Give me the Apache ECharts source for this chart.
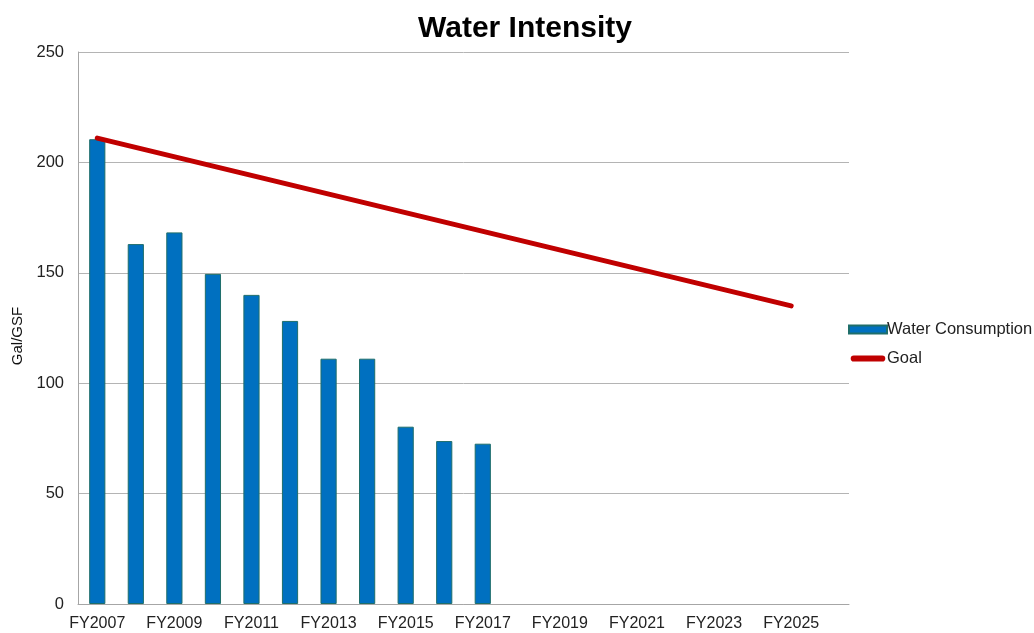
<!DOCTYPE html>
<html>
<head>
<meta charset="utf-8">
<script src="https://cdn.jsdelivr.net/npm/echarts@6/dist/echarts.min.js"></script>
<style>
  html, body { margin: 0; padding: 0; background: #fff; }
  #chart { width: 1034px; height: 633px; }
</style>
</head>
<body>
<div id="chart"></div>
<script>
// Fiscal years on the category axis (FY2026 keeps the last slot, unlabeled)
const years = ['FY2007','FY2008','FY2009','FY2010','FY2011','FY2012','FY2013','FY2014','FY2015','FY2016',
               'FY2017','FY2018','FY2019','FY2020','FY2021','FY2022','FY2023','FY2024','FY2025','FY2026'];
// Water consumption, gallons per gross square foot
const waterConsumption = [210.5, 163, 168.3, 149.5, 140, 128.2, 111.1, 111.1, 80.3, 73.8, 72.6,
                          null, null, null, null, null, null, null, null, null];
// Goal: straight reduction from the FY2007 baseline to the FY2025 target
const goal = [211, null, null, null, null, null, null, null, null, null,
              null, null, null, null, null, null, null, null, 135, null];
const yTicks = { min: 0, max: 250, interval: 50 };

const font = 'Liberation Sans, Arial, sans-serif';
const chart = echarts.init(document.getElementById('chart'));
chart.setOption({
  animation: false,
  backgroundColor: '#fff',
  title: {
    text: 'Water Intensity',
    left: 520, top: 9, textAlign: 'center',
    textStyle: { fontFamily: font, fontSize: 30, fontWeight: 'bold', color: '#000' }
  },
  grid: { left: 78, right: 185, top: 52, bottom: 29 },
  legend: {
    orient: 'vertical',
    left: 843, top: 316,
    itemGap: 12,
    itemWidth: 38, itemHeight: 8,
    textStyle: { fontFamily: font, fontSize: 16.5, color: '#222', padding: [0, 0, 0, -5] },
    data: [
      { name: 'Water Consumption', icon: 'rect' },
      { name: 'Goal', icon: 'path://M4,1 H36 A3.5,3.5 0 0 1 36,8 H4 A3.5,3.5 0 0 1 4,1 Z M0,0 H0.01 V0.01 Z M40,9 H40.01 V9.01 Z' }
    ]
  },
  graphic: [
    {
      type: 'text',
      x: 18, y: 336,
      rotation: Math.PI / 2,
      style: {
        text: 'Gal/GSF',
        font: '15px ' + font,
        fill: '#111',
        align: 'center',
        verticalAlign: 'middle'
      }
    }
  ],
  xAxis: {
    type: 'category',
    data: years,
    boundaryGap: true,
    axisLine: { lineStyle: { color: '#a6a6a6', width: 1 } },
    axisTick: { show: false },
    axisLabel: { interval: 1, margin: 12, fontFamily: font, fontSize: 16, color: '#222' },
    splitLine: { show: false }
  },
  yAxis: {
    type: 'value',
    min: yTicks.min, max: yTicks.max, interval: yTicks.interval,
    axisLine: { show: true, lineStyle: { color: '#a6a6a6', width: 1 } },
    axisTick: { show: false },
    axisLabel: { margin: 14, fontFamily: font, fontSize: 16.5, color: '#222' },
    splitLine: { lineStyle: { color: '#b4b4b4', width: 1 } }
  },
  series: [
    {
      name: 'Water Consumption',
      type: 'bar',
      data: waterConsumption,
      barWidth: '42%',
      itemStyle: { color: '#0070c0', borderColor: '#1f6e6a', borderWidth: 1 }
    },
    {
      name: 'Goal',
      type: 'line',
      data: goal,
      connectNulls: true,
      symbol: 'none',
      lineStyle: { color: '#c00000', width: 5, cap: 'round' },
      itemStyle: { color: '#c00000' }
    }
  ]
});
</script>
</body>
</html>
